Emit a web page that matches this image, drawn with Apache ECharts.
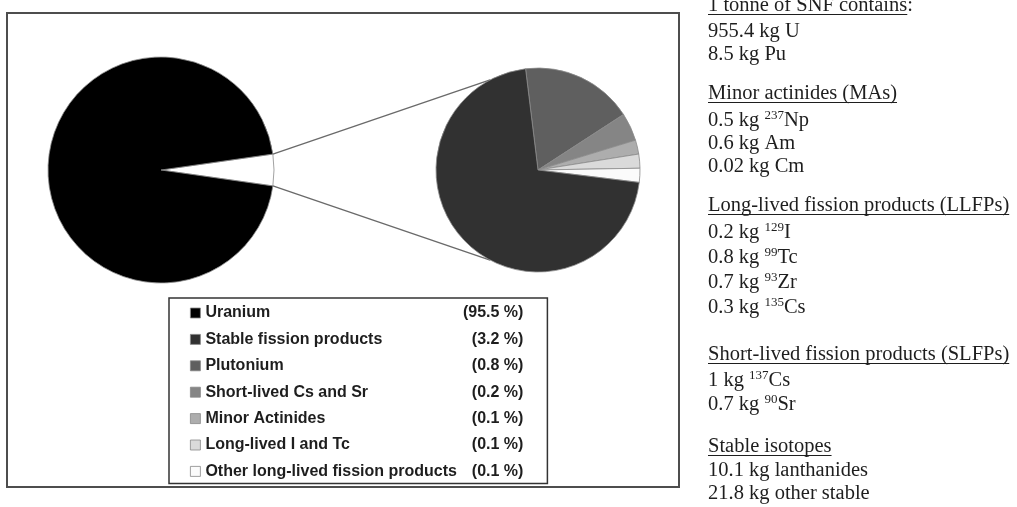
<!DOCTYPE html>
<html>
<head>
<meta charset="utf-8">
<script src="https://cdn.jsdelivr.net/npm/echarts@6/dist/echarts.min.js"></script>
<style>html,body{margin:0;padding:0;background:#fff}#c{width:1017px;height:507px}</style>
</head>
<body>
<div id="c"></div>
<script>
// ---- data ----
const legendNames = ['Uranium', 'Stable fission products', 'Plutonium', 'Short-lived Cs and Sr',
  'Minor Actinides', 'Long-lived I and Tc', 'Other long-lived fission products'];
const sharePct = [95.5, 3.2, 0.8, 0.2, 0.1, 0.1, 0.1];
const shadeColors = ['#000000', '#313131', '#5f5f5f', '#858585', '#adadad', '#dadada', '#fbfbfb'];
const zoomOrder = [2, 3, 4, 5, 6, 1]; // order of the slices in the second pie (clockwise)

const noteLines = [
  ['1 tonne of SNF contains:'],
  ['955.4 kg U'],
  ['8.5 kg Pu'],
  ['Minor actinides (MAs)'],
  ['0.5 kg ', '237', 'Np'],
  ['0.6 kg Am'],
  ['0.02 kg Cm'],
  ['Long-lived fission products (LLFPs)'],
  ['0.2 kg ', '129', 'I'],
  ['0.8 kg ', '99', 'Tc'],
  ['0.7 kg ', '93', 'Zr'],
  ['0.3 kg ', '135', 'Cs'],
  ['Short-lived fission products (SLFPs)'],
  ['1 kg ', '137', 'Cs'],
  ['0.7 kg ', '90', 'Sr'],
  ['Stable isotopes'],
  ['10.1 kg lanthanides'],
  ['21.8 kg other stable']
];
const noteHeadings = [0, 3, 7, 12, 15];

// ---- layout ----
const noteBaselines = [12, 37.5, 61, 100, 127, 150, 173, 212, 239, 264, 289, 314, 361, 387, 411, 453, 476.5, 499.5];
const noteX = 708;
const NOTE_FONT = 20.5;
const L = [161, 170], rL = 113;
const R = [538, 170], rR = 102;
const connectAngle = 118;

const otherTotal = sharePct.slice(1).reduce((a, b) => a + b, 0);
const halfAngle = otherTotal / 100 * 180;

const chart = echarts.init(document.getElementById('c'));

const border = { borderColor: '#8a8a8a', borderWidth: 0.8 };

const leftData = [
  { name: 'Other components', value: otherTotal, itemStyle: Object.assign({ color: '#ffffff' }, border) },
  { name: legendNames[0], value: sharePct[0], itemStyle: Object.assign({ color: shadeColors[0] }, border) }
];
const rightData = zoomOrder.map(i => ({
  name: legendNames[i], value: sharePct[i], itemStyle: Object.assign({ color: shadeColors[i] }, border)
}));

// text measuring for underlines
const ctx = document.createElement('canvas').getContext('2d');
ctx.font = NOTE_FONT + 'px "Liberation Serif"';

const graphics = [];
graphics.push({
  type: 'rect', shape: { x: 7, y: 13, width: 672, height: 474 },
  style: { fill: 'none', stroke: '#4e4e4e', lineWidth: 2 }, silent: true
});
// connector lines
const rad = Math.PI / 180;
[1, -1].forEach(s => {
  graphics.push({
    type: 'line',
    shape: {
      x1: L[0] + rL * Math.cos(halfAngle * rad), y1: L[1] - s * rL * Math.sin(halfAngle * rad),
      x2: R[0] + rR * Math.cos(connectAngle * rad), y2: R[1] - s * rR * Math.sin(connectAngle * rad)
    },
    style: { stroke: '#6a6a6a', lineWidth: 1.4 }, silent: true
  });
});
const baseOff = NOTE_FONT * 0.305 + 12; // line top -> alphabetic baseline
noteLines.forEach((ln, i) => {
  const b = noteBaselines[i];
  let txt;
  if (ln.length === 1) txt = '{b|' + ln[0] + '}';
  else txt = '{b|' + ln[0] + '}{s|' + ln[1] + '}{b|' + ln[2] + '}';
  graphics.push({
    type: 'text', silent: true,
    style: {
      x: noteX, y: b - baseOff, text: txt, align: 'left', verticalAlign: 'top',
      rich: {
        b: { fontSize: NOTE_FONT, lineHeight: 24, fontFamily: 'Liberation Serif', fill: '#1e1e1e', color: '#1e1e1e' },
        s: { fontSize: 13, lineHeight: 8, verticalAlign: 'top', fontFamily: 'Liberation Serif', fill: '#1e1e1e', color: '#1e1e1e' }
      }
    }
  });
  if (noteHeadings.indexOf(i) >= 0) {
    const w = ctx.measureText(ln[0].replace(/:$/, '')).width;
    graphics.push({
      type: 'line', silent: true,
      shape: { x1: noteX, y1: b + 2.5, x2: noteX + w, y2: b + 2.5 },
      style: { stroke: '#1e1e1e', lineWidth: 1 }
    });
  }
});

chart.setOption({
  backgroundColor: '#ffffff',
  animation: false,
  legend: {
    data: legendNames,
    orient: 'vertical',
    left: 169, top: 298,
    padding: [7, 24, 4, 21],
    itemGap: 10.4,
    itemWidth: 10, itemHeight: 10,
    icon: 'rect',
    selectedMode: false,
    borderColor: '#333', borderWidth: 1.5,
    itemStyle: { borderColor: '#888', borderWidth: 0.8 },
    formatter: function (name) {
      const i = legendNames.indexOf(name);
      return '{n|' + name + '}{p|(' + sharePct[i] + ' %)}';
    },
    textStyle: {
      rich: {
        n: { width: 258, lineHeight: 16, fontSize: 16, fontWeight: 'bold', fontFamily: 'Liberation Sans', color: '#1e1e1e' },
        p: { width: 60, align: 'right', lineHeight: 16, fontSize: 16, fontWeight: 'bold', fontFamily: 'Liberation Sans', color: '#1e1e1e' }
      }
    }
  },
  series: [
    {
      type: 'pie', center: L, radius: rL, startAngle: halfAngle, clockwise: true,
      data: leftData, label: { show: false }, labelLine: { show: false },
      emphasis: { disabled: true }, silent: true, avoidLabelOverlap: false
    },
    {
      type: 'pie', center: R, radius: rR, startAngle: 97, clockwise: true,
      data: rightData, label: { show: false }, labelLine: { show: false },
      emphasis: { disabled: true }, silent: true, avoidLabelOverlap: false
    }
  ],
  graphic: graphics
});
</script>
</body>
</html>
